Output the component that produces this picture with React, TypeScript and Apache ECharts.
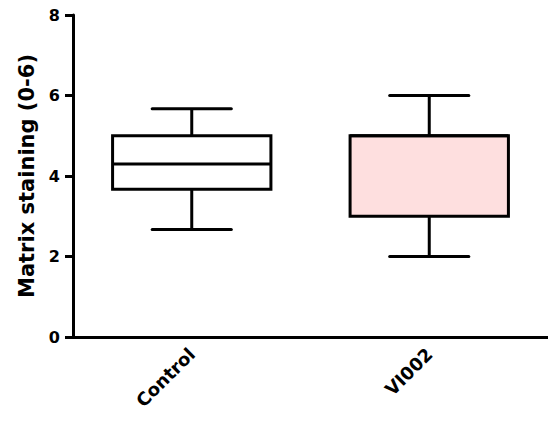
import React, { useEffect, useRef } from "react";
import * as echarts from "echarts";

// Group names on the x axis
const groups = ["Control", "VI002"];
// Whisker low, lower quartile, median, upper quartile, whisker high
const controlStats = [2.67, 3.67, 4.3, 5.0, 5.67];
const vi002Stats = [2.0, 3.0, 5.0, 5.0, 6.0];
// Box fills per group
const boxFills = ["#ffffff", "#fedfdf"];
// Y axis range and step
const yMin = 0;
const yMax = 8;
const yStep = 2;

const statsRows = [controlStats, vi002Stats];

export default function App() {
  const ref = useRef<HTMLDivElement>(null);

  useEffect(() => {
    if (!ref.current) return;
    const chart = echarts.init(ref.current, undefined, { renderer: "svg" });
    const font = "DejaVu Sans";

    const renderItem = (params: any, api: any) => {
      const idx = api.value(0);
      const lo = api.value(1);
      const q1 = api.value(2);
      const med = api.value(3);
      const q3 = api.value(4);
      const hi = api.value(5);
      const band = api.size([1, 0])[0];
      const boxW = band * (2 / 3);
      const capW = boxW / 2;
      const pLo = api.coord([idx, lo]);
      const pQ1 = api.coord([idx, q1]);
      const pMed = api.coord([idx, med]);
      const pQ3 = api.coord([idx, q3]);
      const pHi = api.coord([idx, hi]);
      const cx = pMed[0];
      const stroke = { stroke: "#000", lineWidth: 3, fill: "none" };
      return {
        type: "group",
        children: [
          {
            type: "line",
            shape: { x1: cx, y1: pHi[1], x2: cx, y2: pQ3[1] },
            style: stroke,
          },
          {
            type: "line",
            shape: { x1: cx, y1: pQ1[1], x2: cx, y2: pLo[1] },
            style: stroke,
          },
          {
            type: "line",
            shape: { x1: cx - capW / 2, y1: pHi[1], x2: cx + capW / 2, y2: pHi[1] },
            style: { ...stroke, lineCap: "round" },
          },
          {
            type: "line",
            shape: { x1: cx - capW / 2, y1: pLo[1], x2: cx + capW / 2, y2: pLo[1] },
            style: { ...stroke, lineCap: "round" },
          },
          {
            type: "rect",
            shape: { x: cx - boxW / 2, y: pQ3[1], width: boxW, height: pQ1[1] - pQ3[1] },
            style: { stroke: "#000", lineWidth: 3, fill: boxFills[idx] },
          },
          {
            type: "line",
            shape: { x1: cx - boxW / 2, y1: pMed[1], x2: cx + boxW / 2, y2: pMed[1] },
            style: stroke,
          },
        ],
      };
    };

    chart.setOption({
      animation: false,
      backgroundColor: "#ffffff",
      grid: { left: 73, top: 15, width: 482, height: 322 },
      xAxis: {
        type: "category",
        data: groups,
        axisLine: { lineStyle: { color: "#000", width: 3 } },
        axisTick: { alignWithLabel: true, length: 9, lineStyle: { color: "#000", width: 3 } },
        axisLabel: {
          rotate: 45,
          margin: 14,
          color: "#000",
          fontFamily: font,
          fontWeight: "bold",
          fontSize: 18,
        },
        splitLine: { show: false },
      },
      yAxis: {
        type: "value",
        min: yMin,
        max: yMax,
        interval: yStep,
        name: "Matrix staining (0-6)",
        nameLocation: "middle",
        nameGap: 33,
        nameTextStyle: { color: "#000", fontFamily: font, fontWeight: "bold", fontSize: 21 },
        axisLine: { show: true, lineStyle: { color: "#000", width: 3 } },
        axisTick: { show: true, length: 8, lineStyle: { color: "#000", width: 3 } },
        axisLabel: {
          margin: 13,
          color: "#000",
          fontFamily: font,
          fontWeight: "bold",
          fontSize: 16,
        },
        splitLine: { show: false },
      },
      series: [
        {
          type: "custom",
          renderItem,
          encode: { x: 0, y: [1, 2, 3, 4, 5] },
          data: statsRows.map((row, i) => [i, ...row]),
        },
      ],
    });

    return () => chart.dispose();
  }, []);

  return (
    <div
      ref={ref}
      style={{ position: "fixed", left: 0, top: 0, width: 548, height: 431 }}
    />
  );
}
